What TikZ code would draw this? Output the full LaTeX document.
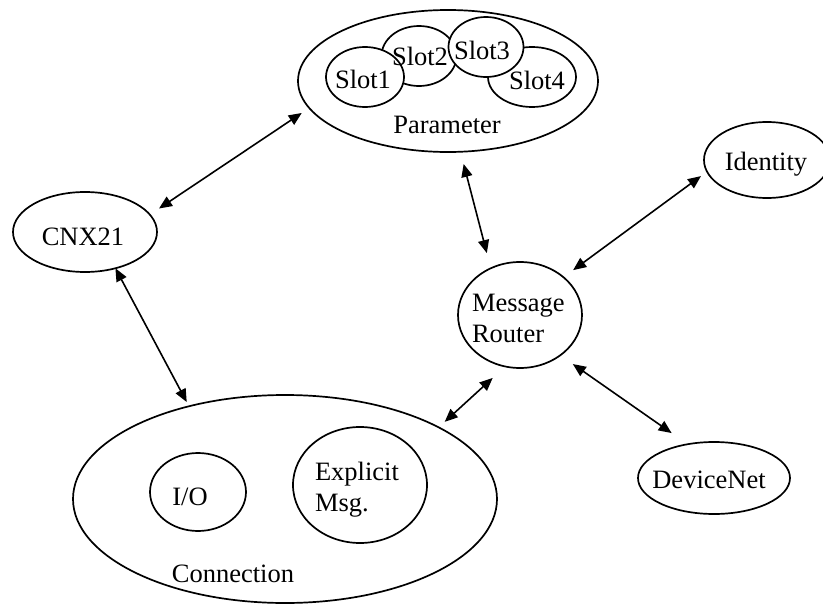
\documentclass[tikz,border=0pt]{standalone}
\usepackage{fontspec}
\setmainfont{Liberation Serif}
\usetikzlibrary{arrows.meta,shapes.geometric}
\begin{document}
\begin{tikzpicture}[x=1pt,y=-1pt,
  blob/.style={ellipse, draw, line width=1.7pt, fill=white, inner sep=0pt, outer sep=0pt},
  lbl/.style={inner sep=0pt, outer sep=0pt, anchor=base, font=\fontsize{26.5}{31}\selectfont},
  lblw/.style={lbl, anchor=base west},
  link/.style={line width=1.6pt, {Triangle[length=13pt,width=11pt]}-{Triangle[length=13pt,width=11pt]}}]
\useasboundingbox (0,0) rectangle (823,605);

% containers and objects
\node[blob, minimum width=300, minimum height=142] (param) at (448,81) {};
\node[blob, minimum width=88, minimum height=60] (slot4) at (532,77) {};
\node[blob, minimum width=75, minimum height=60] (slot2) at (419,56) {};
\node[blob, minimum width=75, minimum height=60] (slot3) at (486,47) {};
\node[blob, minimum width=78, minimum height=60] (slot1) at (365,77) {};
\node[blob, minimum width=144, minimum height=80] (cnx) at (85,232) {};
\node[blob, minimum width=126, minimum height=76] (ident) at (767,160) {};
\node[blob, minimum width=124, minimum height=106] (mr) at (520,315) {};
\node[blob, minimum width=424, minimum height=208] (conn) at (285,499) {};
\node[blob, minimum width=96, minimum height=78] (io) at (198,492) {};
\node[blob, minimum width=134, minimum height=116] (expl) at (360,485) {};
\node[blob, minimum width=152, minimum height=72] (dnet) at (714,478) {};

% labels
\node[lbl] (param-t) at (447,133) {Parameter};
\node[lbl] (slot1-t) at (363,88) {Slot1};
\node[lbl] (slot2-t) at (420,65) {Slot2};
\node[lbl] (slot3-t) at (482,59) {Slot3};
\node[lbl] (slot4-t) at (537,89) {Slot4};
\node[lbl] (cnx-t) at (83,245) {CNX21};
\node[lbl] (ident-t) at (766,170) {Identity};
\node[lblw] (mr-t) at (472,311) {\begin{tabular}[t]{@{}l@{}}Message\\Router\end{tabular}};
\node[lblw] (expl-t) at (315,480) {\begin{tabular}[t]{@{}l@{}}Explicit\\Msg.\end{tabular}};
\node[lbl] (io-t) at (190,505) {I/O};
\node[lbl] (conn-t) at (233,582) {Connection};
\node[lbl] (dnet-t) at (709,488) {DeviceNet};

% connectors
\draw[link, shorten <=11pt, shorten >=9pt] (cnx.15) -- (param.191);
\draw[link, shorten <=12.6pt, shorten >=15.7pt] (param.280) -- (mr.122);
\draw[link, shorten <=7.5pt, shorten >=12pt] (ident.191) -- (mr.41);
\draw[link, shorten <=0pt, shorten >=4.8pt] (cnx.310) -- (conn.136);
\draw[link, shorten <=8.2pt, shorten >=17pt] (conn.25) -- (mr.254);
\draw[link, shorten <=15.3pt, shorten >=19.5pt] (mr.315) -- (dnet.128);
\end{tikzpicture}
\end{document}
